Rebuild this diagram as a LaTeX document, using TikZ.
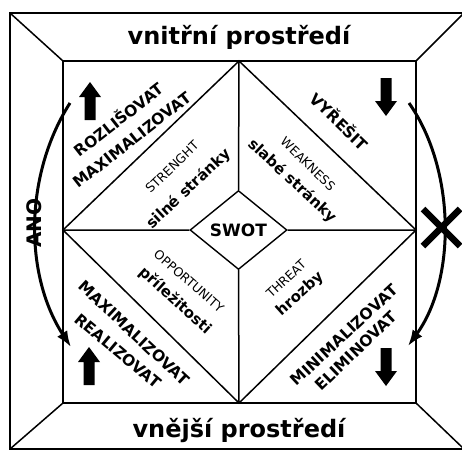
\documentclass[tikz,border=0pt]{standalone}
\usepackage{fontspec}
\setmainfont{DejaVu Sans}
\usetikzlibrary{arrows.meta,shapes.geometric}

\tikzset{
  frame/.style={line width=1.5pt},
  title/.style={font=\fontsize{24}{28}\selectfont\bfseries, inner sep=0pt},
  act/.style={font=\fontsize{15.5}{18}\selectfont\bfseries, inner sep=0pt},
  eng/.style={font=\fontsize{12.5}{14}\selectfont, inner sep=0pt},
  cz/.style={font=\fontsize{15}{17}\selectfont\bfseries, inner sep=0pt},
  swing/.style={line width=3pt, -{Latex[length=16pt,width=12pt]}},
  pics/uparrow/.style={code={
    \fill (0,-19) -- (11,-4) -- (5.5,-4) -- (5.5,19) -- (-5.5,19) -- (-5.5,-4) -- (-11,-4) -- cycle;}}
}

\begin{document}
\begin{tikzpicture}[x=1pt, y=-1pt]
  \useasboundingbox (0,0) rectangle (462,451);
  \clip (0,0) rectangle (462,451);
  % frame
  \coordinate (oTL) at (10,13);  \coordinate (oTR) at (464,13);
  \coordinate (oBL) at (10,449); \coordinate (oBR) at (464,449);
  \coordinate (iTL) at (63,61);  \coordinate (iTR) at (416,61);
  \coordinate (iBL) at (63,403); \coordinate (iBR) at (416,403);
  \draw[frame] (oTL) rectangle (oBR);
  \draw[frame] (iTL) rectangle (iBR);
  \draw[frame] (oTL) -- (iTL) (oTR) -- (iTR) (oBL) -- (iBL) (oBR) -- (iBR);
  % big diamond
  \coordinate (dN) at (239,61);  \coordinate (dS) at (239,403);
  \coordinate (dW) at (63,230);  \coordinate (dE) at (416,230);
  \draw[frame] (dN) -- (dE) -- (dS) -- (dW) -- cycle;
  \node[draw, diamond, line width=1.4pt, minimum width=97, minimum height=79,
    inner sep=0pt, font=\fontsize{17}{19}\selectfont\bfseries] (swot) at (238.5,230) {SWOT};
  \draw[frame] (dN) -- (swot.north) (dS) -- (swot.south)
    (dW) -- (swot.west) (dE) -- (swot.east);
  % titles
  \node[title] (top) at (239,37) {vnitřní prostředí};
  \node[title] (bottom) at (239,430) {vnější prostředí};
  % quadrant labels
  \node[act, rotate=38] (s1) at (118,119) {ROZLIŠOVAT};
  \node[act, rotate=38] (s2) at (132,140) {MAXIMALIZOVAT};
  \node[eng, rotate=44] (s3) at (172,167) {STRENGHT};
  \node[cz, rotate=43] (s4) at (189,189) {silné stránky};
  \node[act, rotate=-44] (w1) at (340,121) {VYŘEŠIT};
  \node[eng, rotate=-44] (w2) at (308,164) {WEAKNESS};
  \node[cz, rotate=-43] (w3) at (292,181) {slabé stránky};
  \node[eng, rotate=-41] (o1) at (189,281) {OPPORTUNITY};
  \node[cz, rotate=-42] (o2) at (175,301) {příležitosti};
  \node[act, rotate=-43] (o3) at (134,333) {MAXIMALIZOVAT};
  \node[act, rotate=-40] (o4) at (118,351) {REALIZOVAT};
  \node[eng, rotate=43] (t1) at (286,279) {THREAT};
  \node[cz, rotate=42] (t2) at (300,294) {hrozby};
  \node[act, rotate=43] (t3) at (344,335) {MINIMALIZOVAT};
  \node[act, rotate=44] (t4) at (356,351) {ELIMINOVAT};
  % block arrows
  \pic at (90,101) {uparrow};
  \pic at (89,366) {uparrow};
  \pic[rotate=180] at (386,97) {uparrow};
  \pic[rotate=180] at (386,367) {uparrow};
  % side arrows
  \coordinate (lA) at (70,103);  \coordinate (lB) at (71,347);
  \coordinate (rA) at (409,103); \coordinate (rB) at (408,346);
  \draw[swing] (lA) .. controls (24,175) and (24,275) .. (lB);
  \draw[swing] (rA) .. controls (456,170) and (456,280) .. (rB);
  \node[font=\fontsize{20}{22}\selectfont\bfseries, rotate=90, inner sep=0pt] (ano) at (34,223) {ANO};
  \draw[line width=6.5pt] (423,209) -- (460,246) (460,209) -- (423,246);
\end{tikzpicture}
\end{document}
